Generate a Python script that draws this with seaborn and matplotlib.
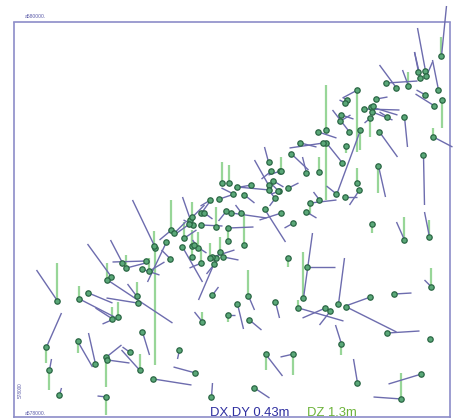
import numpy as np
import pandas as pd
import matplotlib
matplotlib.use("Agg")
import matplotlib.pyplot as plt
from matplotlib.collections import LineCollection
import seaborn as sns

# Control points on the local survey grid (grid units), with horizontal
# displacement vectors (dx, dy) and vertical displacement (dz), all drawn
# at the exaggerated plotting scale.
east = [44, 66, 75, 98, 94, 109, 113, 123, 124, 99, 105, 133, 128, 136, 142, 141, 158, 161, 177, 179,
        188, 191, 180, 188, 153, 157, 169, 171, 185, 179, 203, 188, 199, 199, 207, 210, 201, 189, 129, 166,
        140, 182, 33, 36, 64, 82, 93, 94, 116, 126, 46, 93, 198, 241, 252, 280, 344, 388, 408, 417,
        374, 328, 215, 224, 236, 262, 285, 312, 317, 325, 333, 357, 381, 418, 235, 275, 294, 290, 297, 359,
        391, 416, 251, 268, 280, 231, 218, 228, 215, 215, 428, 405, 412, 407, 413, 373, 383, 395, 412, 425,
        429, 421, 344, 334, 332, 328, 327, 336, 363, 351, 358, 360, 359, 357, 374, 391, 366, 347, 313, 305,
        313, 310, 287, 278, 333, 329, 293, 306, 267, 275, 266, 344, 346, 323, 332, 365, 410, 420, 255, 258,
        260, 268, 265, 255, 255, 262, 238, 224, 209, 216, 220, 231, 197, 206, 213, 293, 306, 176, 203, 181,
        179, 197]
north = [116, 118, 124, 140, 137, 154, 149, 121, 114, 98, 100, 156, 148, 146, 169, 171, 187, 184, 197, 200,
         204, 204, 192, 192, 175, 158, 170, 179, 169, 171, 159, 154, 122, 160, 165, 160, 153, 95, 85, 67,
         38, 44, 70, 47, 76, 53, 60, 57, 65, 47, 22, 20, 20, 29, 63, 63, 34, 18, 43, 78,
         84, 73, 102, 113, 97, 115, 109, 109, 106, 113, 110, 120, 123, 130, 121, 159, 150, 119, 214, 193,
         177, 180, 208, 204, 194, 172, 204, 204, 176, 189, 361, 345, 346, 339, 341, 334, 329, 331, 322, 327,
         317, 311, 327, 317, 314, 302, 296, 285, 318, 308, 310, 311, 305, 299, 300, 300, 285, 287, 287, 285,
         274, 274, 274, 263, 271, 254, 244, 245, 246, 229, 226, 234, 227, 223, 220, 251, 262, 280, 255, 246,
         236, 246, 226, 232, 227, 219, 232, 230, 234, 234, 223, 222, 217, 218, 206, 205, 217, 193, 190, 172,
         160, 159]
dx = [-21, 35, 24, -24, 65, -12, 23, -9, -31, -17, -16, -34, 18, 15, -23, 0, -12, 11, -8, 12,
      8, 8, -10, 21, -19, -9, 20, 12, -6, 0, -18, -12, 6, 22, 0, 15, -8, -8, 7, -2,
      38, -22, 15, 2, 15, -7, 15, 22, -7, -18, 2, -9, 1, 15, 17, -13, -4, -28, -33, 0,
      32, -6, 7, 6, 12, 4, 45, -23, -11, 6, 50, -25, 17, -7, 6, 0, 28, 9, 26, 0,
      -8, -5, 21, -22, -9, 0, 35, -6, 0, 25, 5, -4, -8, -6, 6, 31, -17, -6, -9, -6,
      0, -19, -15, -4, -6, 12, 10, -17, 11, 35, 26, 0, 20, -6, -8, 3, 18, -24, 0, 18,
      0, -34, 16, 17, 0, -16, -4, 0, -12, 10, -8, 0, -10, -10, 12, 7, 1, 19, -4, -10,
      10, 0, -8, -14, 8, -6, -17, 32, 0, 0, -12, 10, -10, 12, -8, 10, -6, -14, 0, 12,
      0, 0]
dy = [31, -18, -10, 33, -43, 23, 6, 12, 5, 11, -7, -1, -6, 9, 48, 0, -10, 11, 23, 12,
      11, -6, 5, -1, -40, 9, -35, 8, 8, 0, -42, -5, 8, 7, 0, -3, -10, 10, -23, -9,
      -6, 6, 34, 11, -26, 31, 12, -3, 5, 20, 7, 1, 14, -10, -22, -3, 24, 2, -10, 0,
      2, 19, 0, -25, -10, -16, -13, -10, -14, 46, -25, -9, 1, 7, -14, 0, 0, 65, 3, 0,
      18, 25, -33, -7, -5, 0, -5, 8, 0, 1, 50, 20, 43, 26, 14, 2, 23, 16, 5, 30,
      0, 12, -8, 2, 3, -4, 6, 22, 2, -1, -8, 0, -8, -5, 5, -30, -25, -65, 0, -6,
      0, -5, -4, -16, 0, 20, 16, 0, -4, 5, -3, 0, -15, 8, 0, -31, -50, -10, 15, -8,
      -6, 0, 8, 25, -10, -8, -3, -3, 0, 0, 6, -8, -6, 4, -10, -6, 8, -10, 0, -8,
      0, 0]
dz = [38, 13, 0, 0, 17, 0, 13, 14, 0, 12, 15, 0, 0, 13, -117, 15, 30, 0, 0, 15,
      0, 0, 0, 0, 0, 0, 0, 16, 16, 16, 0, 15, 0, 0, 15, 0, 0, 10, 0, 0,
      0, 0, -16, -20, -12, 0, -30, 0, 0, 16, 0, -18, 0, 0, -16, -21, 0, 26, 0, 0,
      0, -11, -7, 0, 0, 0, 8, 0, 0, 0, 0, 0, 0, 19, 26, -9, 0, 46, -12, -9,
      23, 17, 0, 0, 0, 32, 0, 0, 14, 0, 19, 0, 0, 0, 0, 0, 0, 14, 0, 0,
      -28, 0, -62, 0, 0, 0, 0, 0, 0, 0, 0, 0, 0, -19, 0, 0, 0, -20, 45, 0,
      -57, 0, 0, 0, -7, 0, 0, 15, 0, 0, 0, 15, 0, 0, 0, -27, 0, 9, 0, 0,
      0, 14, 0, 0, 0, 0, 0, 0, 21, 18, 0, 0, 0, 0, 0, 0, 0, 0, 20, 0,
      24, 15]

grid_labels = ["a580000.", "a578000.", "578000"]
legend_dxdy = "DX,DY 0.43m"
legend_dz = "DZ 1.3m"

df = pd.DataFrame({"east": east, "north": north, "dx": dx, "dy": dy, "dz": dz})

sns.set_theme(style="white")
plt.rcParams["font.family"] = ["Liberation Sans", "DejaVu Sans"]

W, H = 454, 419
fig = plt.figure(figsize=(W / 100, H / 100), dpi=100)
fig.patch.set_facecolor("white")
left, right, top, bottom = 13.5, 450, 22.5, 417
ax = fig.add_axes([left / W, (H - bottom) / H, (right - left) / W, (bottom - top) / H])
ax.set_facecolor("white")

# vertical displacement (green bars)
z = df[df.dz != 0]
zseg = [[(e, n), (e, n + d)] for e, n, d in zip(z.east, z.north, z.dz)]
ax.add_collection(LineCollection(zseg, colors="#98d698", linewidths=1.6,
                                 zorder=2, clip_on=False))

# horizontal displacement vectors
h = df[(df.dx != 0) | (df.dy != 0)]
hseg = [[(e, n), (e + a, n + b)] for e, n, a, b in zip(h.east, h.north, h.dx, h.dy)]
ax.add_collection(LineCollection(hseg, colors="#6d6cae", linewidths=1.0,
                                 zorder=3, clip_on=False))

sns.scatterplot(data=df, x="east", y="north", ax=ax, s=15, color="#5aa878",
                edgecolor="#2a6644", linewidth=0.9, zorder=4, legend=False, clip_on=False)

ax.set_xlim(0, right - left)
ax.set_ylim(0, bottom - top)
ax.set_xticks([])
ax.set_yticks([])
ax.set_xlabel("")
ax.set_ylabel("")
for sp in ax.spines.values():
    sp.set_visible(True)
    sp.set_color("#8c8cc8")
    sp.set_linewidth(1.2)

fig.text(25 / W, 1 - 18 / H, grid_labels[0], fontsize=3.6, color="#5a5aa8",
         ha="left", va="baseline")
fig.text(25 / W, 1 - 415 / H, grid_labels[1], fontsize=3.6, color="#5a5aa8",
         ha="left", va="baseline")
fig.text(20 / W, 1 - 390 / H, grid_labels[2], fontsize=3.4, color="#5a5aa8",
         ha="center", va="center", rotation=90)

fig.text(210 / W, 1 - 415.5 / H, legend_dxdy, fontsize=9.4, color="#2e2ea0",
         ha="left", va="baseline")
fig.text(307 / W, 1 - 415.5 / H, legend_dz, fontsize=9.4, color="#6cb33a",
         ha="left", va="baseline")

fig.savefig("out.png", dpi=100, facecolor="white")
